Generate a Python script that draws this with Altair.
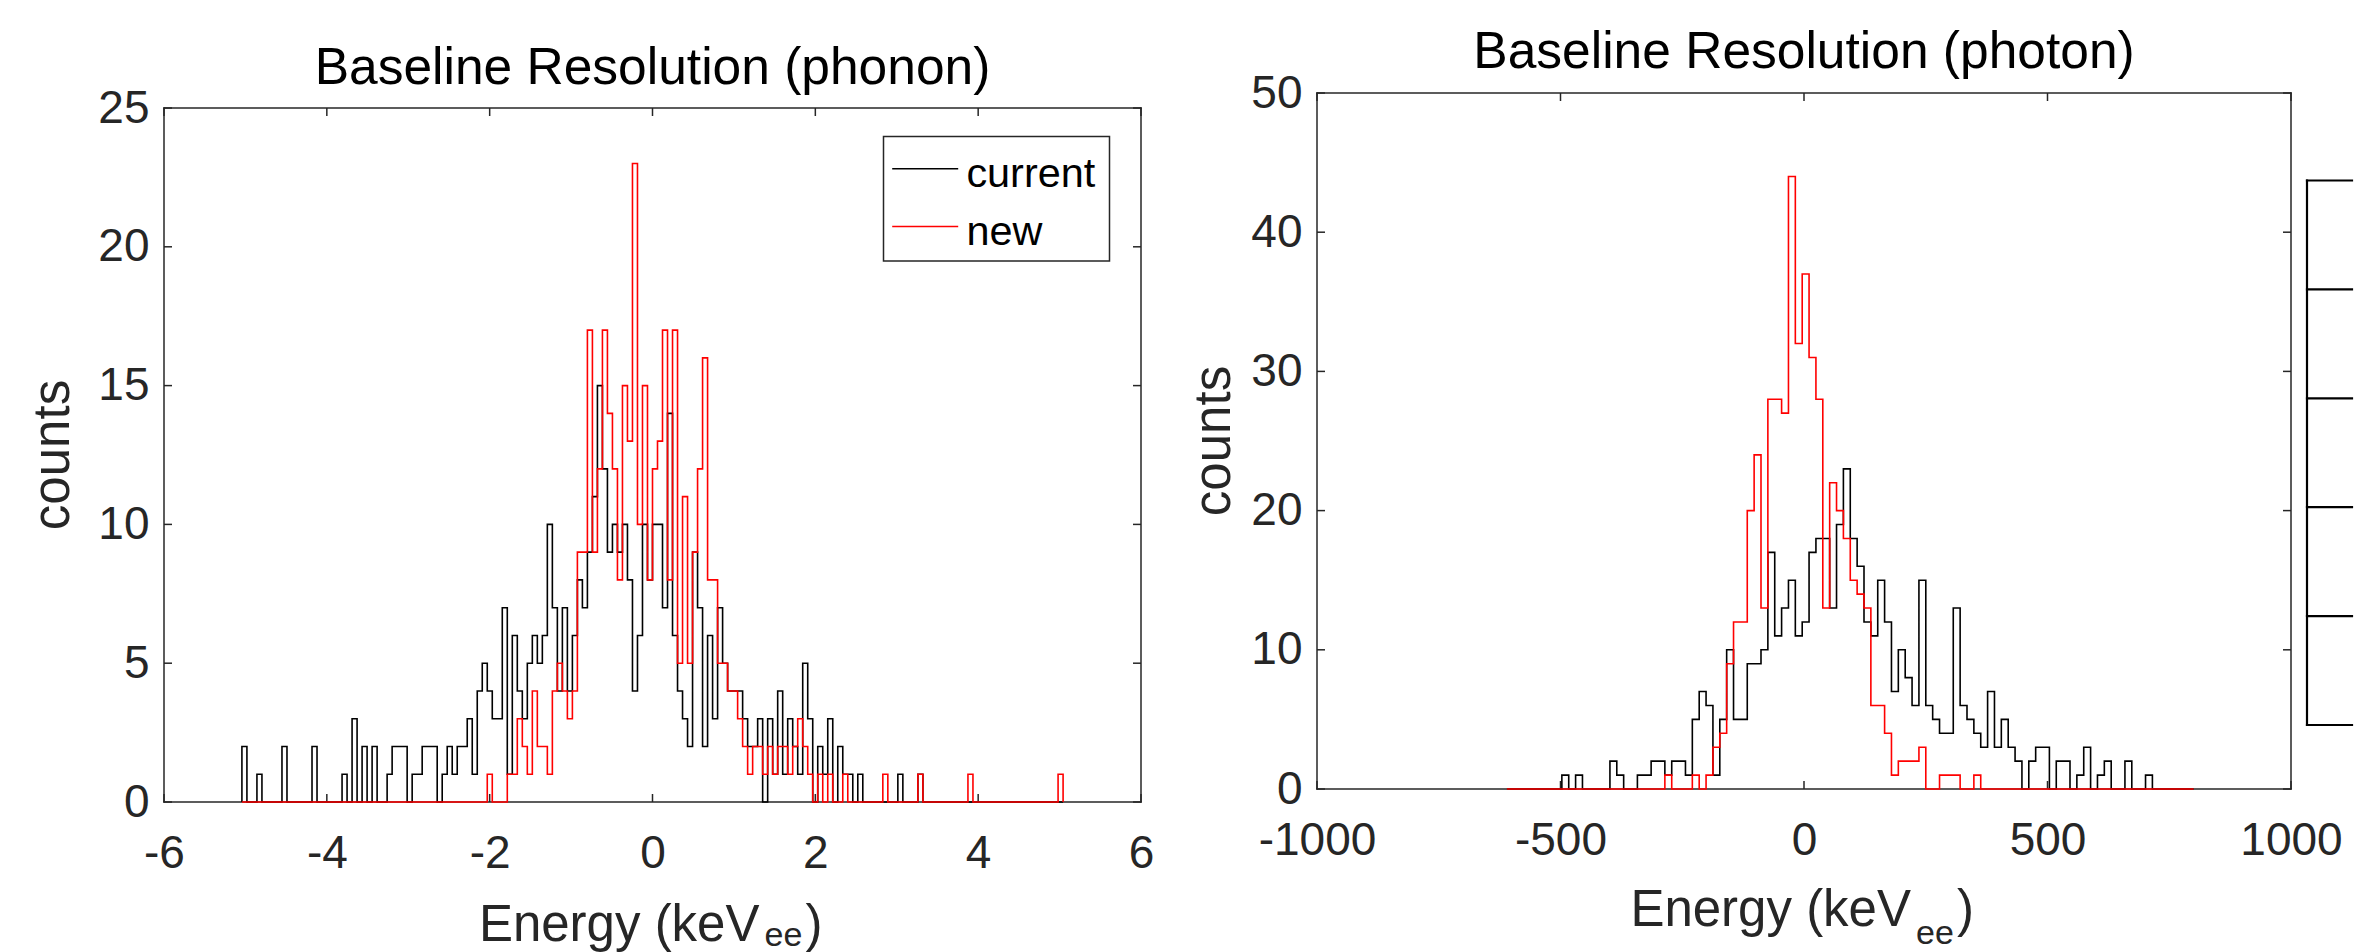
import altair as alt
import pandas as pd

FONT = "Liberation Sans"
AXIS_COLOR = "#262626"

# ---------------- data ----------------
series = ["current", "new"]
series_colors = ["#000000", "#ff0000"]

# phonon histogram: 164 bins of 0.0615 keVee starting at -5.043
phonon_bin_start = -5.043
phonon_bin_width = 0.0615
phonon_current = [
    2, 0, 0, 1, 0, 0, 0, 0, 2, 0,
    0, 0, 0, 0, 2, 0, 0, 0, 0, 0,
    1, 0, 3, 0, 2, 0, 2, 0, 0, 1,
    2, 2, 2, 0, 1, 1, 2, 2, 2, 0,
    1, 2, 1, 2, 2, 3, 1, 4, 5, 4,
    3, 3, 7, 1, 6, 4, 3, 5, 6, 5,
    6, 10, 7, 4, 7, 4, 6, 8, 7, 9,
    11, 15, 12, 9, 10, 9, 10, 8, 4, 6,
    10, 8, 10, 10, 7, 14, 6, 4, 3, 2,
    9, 7, 2, 6, 3, 7, 5, 4, 4, 4,
    3, 2, 2, 3, 0, 3, 1, 4, 1, 3,
    2, 1, 5, 3, 0, 2, 1, 3, 0, 2,
    1, 1, 0, 1, 0, 0, 0, 0, 0, 0,
    0, 1, 0, 0, 0, 1, 0, 0, 0, 0,
    0, 0, 0, 0, 0, 0, 0, 0, 0, 0,
    0, 0, 0, 0, 0, 0, 0, 0, 0, 0,
    0, 0, 0, 0,
]
phonon_new = [
    0, 0, 0, 0, 0, 0, 0, 0, 0, 0,
    0, 0, 0, 0, 0, 0, 0, 0, 0, 0,
    0, 0, 0, 0, 0, 0, 0, 0, 0, 0,
    0, 0, 0, 0, 0, 0, 0, 0, 0, 0,
    0, 0, 0, 0, 0, 0, 0, 0, 0, 1,
    0, 0, 0, 1, 1, 3, 2, 1, 4, 2,
    2, 1, 4, 5, 4, 3, 4, 9, 9, 17,
    9, 12, 17, 14, 12, 8, 15, 13, 23, 10,
    15, 8, 12, 13, 17, 8, 17, 5, 11, 5,
    9, 12, 16, 8, 8, 5, 5, 4, 4, 3,
    2, 1, 2, 2, 1, 2, 1, 2, 2, 1,
    2, 3, 2, 1, 0, 1, 0, 1, 0, 0,
    1, 0, 0, 0, 0, 0, 0, 0, 1, 0,
    0, 0, 0, 0, 0, 1, 0, 0, 0, 0,
    0, 0, 0, 0, 0, 1, 0, 0, 0, 0,
    0, 0, 0, 0, 0, 0, 0, 0, 0, 0,
    0, 0, 0, 1,
]

# photon histogram: 100 bins of 14.1 keVee starting at -610
photon_bin_start = -610.0
photon_bin_width = 14.1
photon_current = [
    0, 0, 0, 0, 0, 0, 0, 0, 1, 0,
    1, 0, 0, 0, 0, 2, 1, 0, 0, 1,
    1, 2, 2, 1, 2, 2, 1, 5, 7, 6,
    1, 5, 10, 5, 5, 9, 9, 10, 17, 11,
    13, 15, 11, 12, 17, 18, 18, 13, 19, 23,
    18, 16, 12, 11, 15, 12, 7, 10, 8, 6,
    15, 6, 5, 4, 4, 13, 6, 5, 4, 3,
    7, 3, 5, 3, 2, 0, 2, 3, 3, 0,
    2, 2, 0, 1, 3, 0, 1, 2, 0, 0,
    2, 0, 0, 1, 0, 0, 0, 0, 0, 0,
]
photon_new = [
    0, 0, 0, 0, 0, 0, 0, 0, 0, 0,
    0, 0, 0, 0, 0, 0, 0, 0, 0, 0,
    0, 0, 0, 1, 0, 0, 0, 1, 0, 1,
    3, 4, 9, 12, 12, 20, 24, 13, 28, 28,
    27, 44, 32, 37, 31, 28, 13, 22, 20, 18,
    15, 14, 13, 6, 6, 4, 1, 2, 2, 2,
    3, 0, 0, 1, 1, 1, 0, 0, 1, 0,
    0, 0, 0, 0, 0, 0, 0, 0, 0, 0,
    0, 0, 0, 0, 0, 0, 0, 0, 0, 0,
    0, 0, 0, 0, 0, 0, 0, 0, 0, 0,
]

phonon_x_ticks = [-6, -4, -2, 0, 2, 4, 6]
phonon_y_ticks = [0, 5, 10, 15, 20, 25]
photon_x_ticks = [-1000, -500, 0, 500, 1000]
photon_y_ticks = [0, 10, 20, 30, 40, 50]

panel_titles = ["Baseline Resolution (phonon)", "Baseline Resolution (photon)"]
x_title_main = "Energy (keV"
x_title_sub = "ee"
x_title_end = ")"
y_title = "counts"


def stairs(counts, start, width, name):
    xs, ys = [start], [0]
    for i, c in enumerate(counts):
        xs += [start + i * width, start + (i + 1) * width]
        ys += [c, c]
    xs.append(start + len(counts) * width)
    ys.append(0)
    return pd.DataFrame({"energy": xs, "counts": ys,
                         "order": list(range(len(xs))), "series": name})


def text_layer(text, x, y, size, align="left", angle=0, color=AXIS_COLOR):
    return alt.Chart(pd.DataFrame({"label": [text]})).mark_text(
        font=FONT, fontSize=size, align=align, baseline="alphabetic",
        angle=angle, color=color
    ).encode(text="label:N", x=alt.value(x), y=alt.value(y))


def hline(x1, x2, y, color, width, opacity=1.0):
    return alt.Chart(pd.DataFrame({"k": [0]})).mark_rule(
        color=color, strokeWidth=width, strokeOpacity=opacity, strokeCap="square"
    ).encode(x=alt.value(x1), x2=alt.value(x2), y=alt.value(y))


def vline(x, y1, y2, color, width):
    return alt.Chart(pd.DataFrame({"k": [0]})).mark_rule(
        color=color, strokeWidth=width, strokeCap="square"
    ).encode(x=alt.value(x), y=alt.value(y1), y2=alt.value(y2))


def panel(cur, new, start, width, x_dom, y_max, x_ticks, y_ticks, W, H, frame_top,
          title, left_room, right_room, top_room, title_dy, ylab_x, xlab_dy, sub_dy):
    # the frame of the axes starts frame_top px below the view origin
    y_dom_top = y_max * H / (H - frame_top)
    xs = alt.Scale(domain=x_dom, nice=False, zero=False)
    ys = alt.Scale(domain=[0, y_dom_top], nice=False, zero=False)
    x_axis = alt.Axis(values=x_ticks, title=None, domain=False, ticks=False, tickSize=0,
                      grid=False, labelFont=FONT, labelFontSize=46, labelColor=AXIS_COLOR,
                      labelPadding=65, labelBaseline="alphabetic", labelFlush=False,
                      labelOverlap=False, labelBound=False, labelExpr="'' + datum.value")
    y_axis = alt.Axis(values=y_ticks, title=None, domain=False, ticks=False, tickSize=0,
                      grid=False, labelFont=FONT, labelFontSize=46, labelColor=AXIS_COLOR,
                      labelPadding=15, labelFlush=False, labelOverlap=False,
                      labelBound=False, labelExpr="'' + datum.value")
    color = alt.Color("series:N", scale=alt.Scale(domain=series, range=series_colors),
                      legend=None)

    # invisible guide that fixes the panel's outer extent
    layers = [hline(-left_room, W + right_room, -top_room, "#ffffff", 0.01, 0.0)]

    # inward tick marks
    xt = pd.DataFrame({"tick": x_ticks})
    yt = pd.DataFrame({"tick": y_ticks})
    ts = dict(color=AXIS_COLOR, strokeWidth=1.5)
    layers.append(alt.Chart(xt).mark_rule(**ts).encode(
        x=alt.X("tick:Q", scale=xs, axis=x_axis), y=alt.value(H), y2=alt.value(H - 8)))
    layers.append(alt.Chart(xt).mark_rule(**ts).encode(
        x=alt.X("tick:Q", scale=xs, axis=x_axis), y=alt.value(frame_top),
        y2=alt.value(frame_top + 8)))
    layers.append(alt.Chart(yt).mark_rule(**ts).encode(
        y=alt.Y("tick:Q", scale=ys, axis=y_axis), x=alt.value(0), x2=alt.value(8)))
    layers.append(alt.Chart(yt).mark_rule(**ts).encode(
        y=alt.Y("tick:Q", scale=ys, axis=y_axis), x=alt.value(W - 8), x2=alt.value(W)))

    # axes box
    layers.append(hline(0, W, frame_top, AXIS_COLOR, 1.5))
    layers.append(hline(0, W, H, AXIS_COLOR, 1.5))
    layers.append(vline(0, frame_top, H, AXIS_COLOR, 1.5))
    layers.append(vline(W, frame_top, H, AXIS_COLOR, 1.5))

    for counts, name in ((cur, series[0]), (new, series[1])):
        layers.append(alt.Chart(stairs(counts, start, width, name)).mark_line(
            strokeWidth=1.6, strokeJoin="miter"
        ).encode(
            x=alt.X("energy:Q", scale=xs, axis=x_axis),
            y=alt.Y("counts:Q", scale=ys, axis=y_axis),
            color=color, order="order:Q"))

    # title and axis titles
    ymid = (frame_top + H) / 2
    layers.append(text_layer(title, W / 2, title_dy, 51.5, align="center", color="#000000"))
    layers.append(text_layer(y_title, ylab_x, ymid, 51, align="center", angle=270))
    layers.append(text_layer(x_title_main, W / 2 + 107, H + xlab_dy, 51, align="right"))
    layers.append(text_layer(x_title_sub, W / 2 + 112, H + sub_dy, 34, align="left"))
    layers.append(text_layer(x_title_end, W / 2 + 153, H + xlab_dy, 51, align="left"))
    return layers


# ---------------- left panel ----------------
LW, LH, LTOP = 977, 709, 15
left_layers = panel(phonon_current, phonon_new, phonon_bin_start, phonon_bin_width,
                    [-6, 6], 25, phonon_x_ticks, phonon_y_ticks, LW, LH, LTOP,
                    panel_titles[0], 163.5, 30, 93, LTOP - 24, -95, 139, 144)

# legend
left_layers.append(alt.Chart(pd.DataFrame({"k": [0]})).mark_rect(
    fill="white", stroke=AXIS_COLOR, strokeWidth=1.5
).encode(x=alt.value(719.5), x2=alt.value(945.5),
         y=alt.value(LTOP + 28.6), y2=alt.value(LTOP + 153)))
left_layers.append(hline(729, 793.4, LTOP + 60.8, series_colors[0], 1.6))
left_layers.append(hline(729, 793.4, LTOP + 118.5, series_colors[1], 1.6))
left_layers.append(text_layer(series[0], 802.4, LTOP + 79.3, 41.4, color="#000000"))
left_layers.append(text_layer(series[1], 802.4, LTOP + 137, 41.4, color="#000000"))

left = alt.layer(*left_layers).properties(width=LW, height=LH)

# ---------------- right panel ----------------
RW, RH, RTOP = 974, 696, 0
right_layers = panel(photon_current, photon_new, photon_bin_start, photon_bin_width,
                     [-1000, 1000], 50, photon_x_ticks, photon_y_ticks, RW, RH, RTOP,
                     panel_titles[1], 145.5, 62, 93, -25, -87, 137, 155)

# partially visible table box at the right edge
table_left = 990
table_right = 1035
table_rows = [87.5, 196.4, 305.3, 414.2, 523.1, 632.0]
right_layers.append(vline(table_left, table_rows[0], table_rows[-1], "#000000", 2.2))
for ry in table_rows:
    right_layers.append(hline(table_left, table_right, ry, "#000000", 2.2))

right = alt.layer(*right_layers).properties(width=RW, height=RH)

chart = alt.hconcat(left, right, spacing=0).properties(
    padding={"left": 0, "top": 0, "right": 0, "bottom": 0}
).configure(font=FONT).configure_view(stroke=None)

chart.save("out.html", embed_options={"renderer": "svg", "actions": False})
